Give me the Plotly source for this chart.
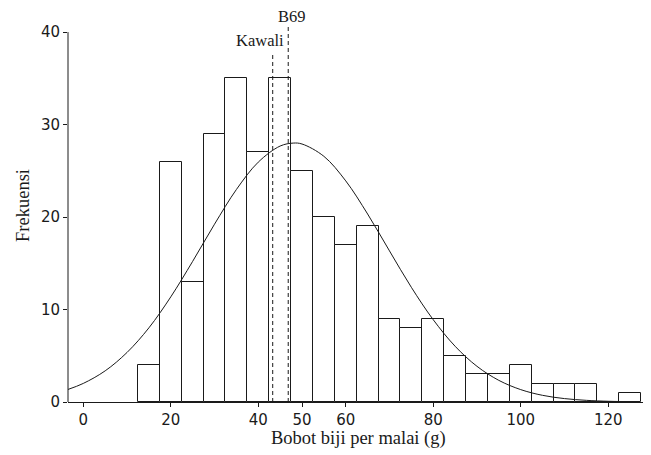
import plotly.graph_objects as go

# Histogram bins (centres, width 5 g) and frequencies
bin_centers = [15, 20, 25, 30, 35, 40, 45, 50, 55, 60, 65, 70, 75, 80,
               85, 90, 95, 100, 105, 110, 115, 120, 125]
frequencies = [4, 26, 13, 29, 35, 27, 35, 25, 20, 17, 19, 9, 8, 9,
               5, 3, 3, 4, 2, 2, 2, 0, 1]
bin_width = 5

# Fitted normal curve
curve_x = [-3.6, 0, 5, 10, 15, 20, 25, 30, 35, 40, 45, 48, 50, 55, 60, 65,
           70, 75, 80, 85, 90, 95, 100, 105, 110, 115, 120, 123]
curve_y = [1.34, 2.01, 3.37, 5.36, 8.02, 11.37, 15.21, 19.23, 22.98, 25.94,
           27.68, 28.0, 27.9, 26.57, 23.91, 20.33, 16.34, 12.4, 8.9, 6.03,
           3.86, 2.34, 1.34, 0.72, 0.37, 0.18, 0.08, 0.05]

# Reference varieties (mean grain weight per panicle)
ref_names = ["Kawali", "B69"]
ref_values = [43.3, 46.85]
ref_line_tops = [37.7, 40.7]
ref_label_x = [40.4, 47.6]
ref_label_y = [39.1, 41.7]

x_ticks = [0, 20, 40, 50, 60, 80, 100, 120]
y_ticks = [0, 10, 20, 30, 40]

x_title = "Bobot biji per malai (g)"
y_title = "Frekuensi"

serif = "Liberation Serif, Times New Roman, serif"
sans = "DejaVu Sans, Verdana, sans-serif"
ink = "#1a1a1a"

fig = go.Figure()
fig.add_trace(go.Bar(
    x=bin_centers, y=frequencies, width=bin_width,
    marker=dict(color="white", line=dict(color=ink, width=1)),
    showlegend=False, hoverinfo="x+y",
))
fig.add_trace(go.Scatter(
    x=curve_x, y=curve_y, mode="lines",
    line=dict(color=ink, width=1, shape="spline"),
    showlegend=False,
))

shapes = []
for v, top in zip(ref_values, ref_line_tops):
    shapes.append(dict(type="line", xref="x", yref="y", x0=v, x1=v, y0=0, y1=top,
                       line=dict(color=ink, width=1, dash="4px,3px"), layer="above"))
# y axis line from 0 to 40
shapes.append(dict(type="line", xref="paper", yref="y", x0=0, x1=0, y0=0, y1=40,
                   line=dict(color=ink, width=1), layer="above"))

annotations = []
for name, lx, ly in zip(ref_names, ref_label_x, ref_label_y):
    annotations.append(dict(x=lx, y=ly, xref="x", yref="y", text=name,
                            showarrow=False, xanchor="center", yanchor="middle",
                            font=dict(family=serif, size=16.5, color=ink)))
annotations.append(dict(x=0.5, y=0, xref="paper", yref="paper", text=x_title,
                        showarrow=False, xanchor="center", yanchor="top", yshift=-24,
                        font=dict(family=serif, size=18.5, color=ink)))

fig.update_layout(
    width=643, height=447,
    margin=dict(l=60, r=3, t=1, b=53),
    paper_bgcolor="white", plot_bgcolor="white",
    bargap=0,
    shapes=shapes, annotations=annotations,
    xaxis=dict(
        range=[-3.5, 129.1], tickmode="array", tickvals=x_ticks,
        ticks="outside", ticklen=4, tickcolor=ink, tickwidth=1,
        showline=True, linecolor=ink, linewidth=1, showgrid=False, zeroline=False,
        tickfont=dict(family=sans, size=15, color=ink),
    ),
    yaxis=dict(
        range=[0, 42.5], tickmode="array", tickvals=y_ticks,
        ticks="outside", ticklen=4, tickcolor=ink, tickwidth=1,
        showline=False, showgrid=False, zeroline=False,
        tickfont=dict(family=sans, size=15, color=ink),
        title=dict(text=y_title, standoff=6,
                   font=dict(family=serif, size=18.5, color=ink)),
    ),
)

fig.write_html("out.html")
